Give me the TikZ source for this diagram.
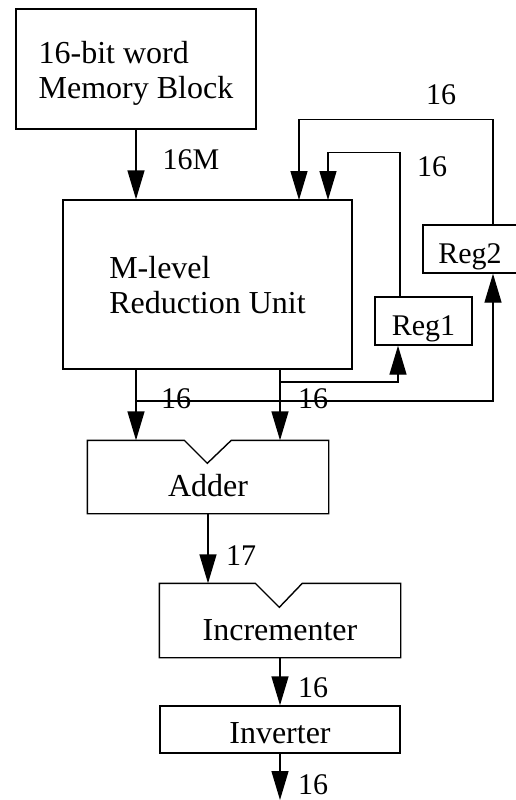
\documentclass[tikz,border=0pt]{standalone}
\usepackage{fontspec}
\setmainfont{Liberation Serif}
\usetikzlibrary{arrows.meta,positioning,calc}

\begin{document}
\begin{tikzpicture}[x=1pt,y=-1pt,>={Triangle[length=29pt,width=17pt]},line width=1.4pt,
  blk/.style={draw,rectangle,inner sep=0pt,font=\fontsize{32}{35}\selectfont},
  reg/.style={blk,text height=28pt,text depth=0pt},
  lbl/.style={inner sep=0pt,font=\fontsize{30}{35}\selectfont}]
  \useasboundingbox (0,0) rectangle (515,800);
  \node[blk,minimum width=240,minimum height=120] (mem) at (136,69) {};
  \node[blk,draw=none,align=left] (memtxt) at (136,73) {16-bit word\\Memory Block};
  \node[blk,minimum width=289,minimum height=169] (red) at (207.5,284.5) {};
  \node[blk,draw=none,align=left] (redtxt) at (207.5,285) {M-level\\Reduction Unit};
  \node[reg,font=\fontsize{30}{35}\selectfont,minimum width=97,minimum height=48] (reg1) at (423.5,321) {Reg1};
  \node[reg,font=\fontsize{30}{35}\selectfont,minimum width=94,minimum height=48] (reg2) at (470,249) {Reg2};
  \node[blk,draw=none,minimum width=240,minimum height=72] (adder) at (208,477) {};
  \node[blk,draw=none] (addertxt) at (208,486) {Adder};
  \node[blk,draw=none,minimum width=240,minimum height=73] (incr) at (280,620.5) {};
  \node[blk,draw=none] (incrtxt) at (280,630) {Incrementer};
  \node[reg,minimum width=240,minimum height=47] (inv) at (280,729.5) {Inverter};
  \coordinate (in2) at (299,200);
  \coordinate (in1) at (328,200);
  \coordinate (o1) at (136,369);
  \coordinate (o2) at (280,369);
  \coordinate (b1) at (136,401);
  \coordinate (b2) at (280,382);
  \coordinate (out) at (280,800);
  \draw (adder.north west) -- ++(97,0) -- ++(23,23) -- ++(24,-23) -- (adder.north east)
    -- (adder.south east) -- (adder.south west) -- cycle;
  \draw (incr.north west) -- ++(96,0) -- ++(24,24) -- ++(23,-24) -- (incr.north east)
    -- (incr.south east) -- (incr.south west) -- cycle;
  \draw[->] (mem.south) -- (mem.south |- red.north);
  \draw[->] ([xshift=23pt]reg2.north) -- ++(0,-105) -| (in2);
  \draw[->] ([xshift=-23.5pt]reg1.north) -- ++(0,-144) -| (in1);
  \draw[->] (o1) -- (o1 |- adder.north);
  \draw[->] (o2) -- (o2 |- adder.north);
  \draw[->] (b1) -| ([xshift=23pt]reg2.south);
  \draw[->] (b2) -| ([xshift=-25.5pt]reg1.south);
  \draw[->] (adder.south) -- (adder.south |- incr.north);
  \draw[->] (incr.south) -- (inv.north);
  \draw[->] (inv.south) -- (out);
  \node[lbl] (w16m) at (191,160) {16M};
  \node[lbl] (wreg2) at (441,95) {16};
  \node[lbl] (wreg1) at (432,167) {16};
  \node[lbl] (wa) at (176,399) {16};
  \node[lbl] (wb) at (313,399) {16};
  \node[lbl] (wsum) at (241,556) {17};
  \node[lbl] (winc) at (313,688) {16};
  \node[lbl] (wout) at (313,785) {16};
\end{tikzpicture}
\end{document}
